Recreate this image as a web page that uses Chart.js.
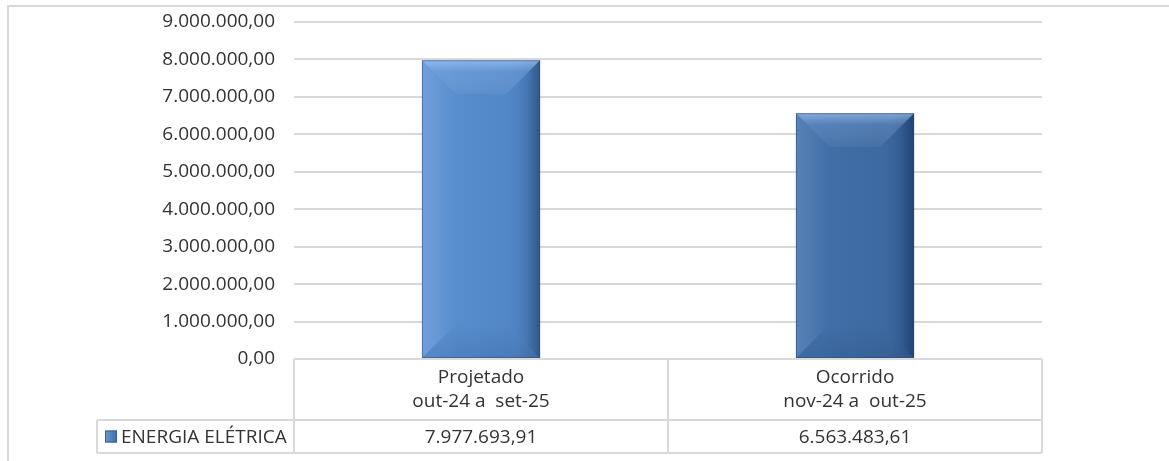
<!DOCTYPE html>
<html>
<head>
<meta charset="utf-8">
<script src="https://cdn.jsdelivr.net/npm/chart.js@4/dist/chart.umd.min.js"></script>
<style>
  html, body { margin: 0; padding: 0; background: #fff; }
  #wrap { width: 1169px; height: 461px; position: relative; }
</style>
</head>
<body>
<div id="wrap"><canvas id="chart"></canvas></div>
<script>
// chart values
var categories = [['Projetado', 'out-24 a  set-25'], ['Ocorrido', 'nov-24 a  out-25']];
var seriesName = 'ENERGIA ELÉTRICA';
var values = [7977693.91, 6563483.61];
var yMax = 9000000;
var yStep = 1000000;

var FONT = '"Open Sans", "Liberation Sans", sans-serif';
var TEXT = '#333333';
var LINE = '#d9d9d9';
var BAR_PCT = 0.316;

// 1234567.8 -> "1.234.567,80"
function fmtBR(v) {
  var parts = v.toFixed(2).split('.');
  var int = parts[0].replace(/\B(?=(\d{3})+(?!\d))/g, '.');
  return int + ',' + parts[1];
}

function barFill(ctx) {
  var chart = ctx.chart;
  var xs = chart.scales.x;
  var base = ctx.dataIndex === 0 ? '#558acb' : '#3f6ca4';
  if (!chart.chartArea || !xs) return base;
  var cx = xs.getPixelForValue(ctx.dataIndex);
  var w = (chart.chartArea.right - chart.chartArea.left) / categories.length * BAR_PCT;
  if (!isFinite(cx) || !isFinite(w)) return base;
  var g = chart.ctx.createLinearGradient(cx - w / 2, 0, cx + w / 2, 0);
  if (ctx.dataIndex === 0) {
    g.addColorStop(0, '#6195d6');
    g.addColorStop(0.3, '#578dcd');
    g.addColorStop(0.8, '#5186c6');
    g.addColorStop(1, '#4474ad');
  } else {
    g.addColorStop(0, '#4674ae');
    g.addColorStop(0.3, '#406ea7');
    g.addColorStop(0.8, '#3c69a0');
    g.addColorStop(1, '#30578a');
  }
  return g;
}

// outer frame of the chart object
var framePlugin = {
  id: 'frame',
  beforeDraw: function (chart) {
    var c = chart.ctx;
    c.save();
    c.strokeStyle = LINE;
    c.lineWidth = 2;
    c.beginPath();
    c.moveTo(8, chart.height);
    c.lineTo(8, 6);
    c.lineTo(chart.width, 6);
    c.stroke();
    c.restore();
  }
};

// soft bevel shading on the bars
var bevelPlugin = {
  id: 'bevel',
  afterDatasetsDraw: function (chart) {
    var c = chart.ctx;
    chart.getDatasetMeta(0).data.forEach(function (bar) {
      var l = bar.x - bar.width / 2, r = bar.x + bar.width / 2;
      var t = bar.y, b = bar.base;
      var s = Math.min(34, bar.width / 3, (b - t) / 2);
      var g;
      c.save();
      // top
      g = c.createLinearGradient(0, t, 0, t + s);
      g.addColorStop(0, 'rgba(190,220,255,0.55)');
      g.addColorStop(0.35, 'rgba(170,205,250,0.18)');
      g.addColorStop(1, 'rgba(255,255,255,0.04)');
      c.fillStyle = g;
      c.beginPath(); c.moveTo(l, t); c.lineTo(r, t); c.lineTo(r - s, t + s); c.lineTo(l + s, t + s); c.closePath(); c.fill();
      // right
      g = c.createLinearGradient(r - s, 0, r, 0);
      g.addColorStop(0, 'rgba(0,20,60,0.0)');
      g.addColorStop(0.6, 'rgba(0,20,60,0.06)');
      g.addColorStop(1, 'rgba(0,20,60,0.3)');
      c.fillStyle = g;
      c.beginPath(); c.moveTo(r, t); c.lineTo(r, b); c.lineTo(r - s, b - s); c.lineTo(r - s, t + s); c.closePath(); c.fill();
      // left
      g = c.createLinearGradient(l, 0, l + s, 0);
      g.addColorStop(0, 'rgba(255,255,255,0.1)');
      g.addColorStop(1, 'rgba(255,255,255,0.0)');
      c.fillStyle = g;
      c.beginPath(); c.moveTo(l, t); c.lineTo(l, b); c.lineTo(l + s, b - s); c.lineTo(l + s, t + s); c.closePath(); c.fill();
      // bottom
      g = c.createLinearGradient(0, b - s, 0, b);
      g.addColorStop(0, 'rgba(0,20,60,0.0)');
      g.addColorStop(1, 'rgba(0,20,60,0.1)');
      c.fillStyle = g;
      c.beginPath(); c.moveTo(l, b); c.lineTo(r, b); c.lineTo(r - s, b - s); c.lineTo(l + s, b - s); c.closePath(); c.fill();
      c.strokeStyle = 'rgba(45,75,120,0.55)';
      c.lineWidth = 1;
      c.strokeRect(l + 0.5, t + 0.5, bar.width - 1, b - t - 1);
      c.restore();
    });
  }
};

// data table under the plot
var tablePlugin = {
  id: 'dataTable',
  afterDraw: function (chart) {
    var c = chart.ctx;
    var area = chart.chartArea;
    var xs = chart.scales.x;
    var top = area.bottom, mid = top + 61, bot = top + 94;
    var legendLeft = 97;
    var edges = [area.left];
    for (var i = 1; i < categories.length; i++) {
      edges.push((xs.getPixelForValue(i - 1) + xs.getPixelForValue(i)) / 2);
    }
    edges.push(area.right);

    c.save();
    c.strokeStyle = LINE;
    c.lineWidth = 2;
    c.beginPath();
    c.moveTo(area.left, top); c.lineTo(area.right, top);
    c.moveTo(legendLeft, mid); c.lineTo(area.right, mid);
    c.moveTo(legendLeft, bot); c.lineTo(area.right, bot);
    c.moveTo(legendLeft, mid); c.lineTo(legendLeft, bot);
    edges.forEach(function (x) { c.moveTo(x, top); c.lineTo(x, bot); });
    c.stroke();

    c.fillStyle = TEXT;
    c.font = '19px ' + FONT;
    c.textAlign = 'center';
    c.textBaseline = 'middle';
    categories.forEach(function (lines, i) {
      var cx = xs.getPixelForValue(i);
      c.fillText(lines[0], cx, top + 19);
      c.fillText(lines[1], cx, top + 43);
      c.fillText(fmtBR(values[i]), cx, (mid + bot) / 2 + 1);
    });

    // legend key
    var ky = (mid + bot) / 2;
    var g = c.createLinearGradient(105, 0, 117, 0);
    g.addColorStop(0, '#6a9ad8');
    g.addColorStop(1, '#3f6ca4');
    c.fillStyle = g;
    c.fillRect(105, ky - 6, 12, 12);
    c.strokeStyle = '#3a5f90';
    c.lineWidth = 1;
    c.strokeRect(105.5, ky - 5.5, 11, 11);
    c.fillStyle = TEXT;
    c.textAlign = 'left';
    c.fillText(seriesName, 121, ky + 1);
    c.restore();
  }
};

new Chart(document.getElementById('chart'), {
  type: 'bar',
  data: {
    labels: categories,
    datasets: [{
      label: seriesName,
      data: values,
      backgroundColor: barFill,
      borderWidth: 0,
      barPercentage: BAR_PCT,
      categoryPercentage: 1
    }]
  },
  options: {
    responsive: true,
    maintainAspectRatio: false,
    animation: false,
    layout: { padding: { top: 22, right: 127, bottom: 102, left: 0 } },
    plugins: {
      legend: { display: false },
      tooltip: { enabled: false }
    },
    scales: {
      x: {
        display: false
      },
      y: {
        min: 0,
        max: yMax,
        ticks: {
          stepSize: yStep,
          padding: 19,
          color: TEXT,
          font: { family: FONT, size: 19 },
          callback: function (v) { return fmtBR(v); }
        },
        grid: { color: LINE, lineWidth: 2, drawTicks: false },
        border: { display: false },
        afterFit: function (scale) {
          scale.width = 294;
          scale.paddingTop = 0;
          scale.paddingBottom = 0;
        }
      }
    }
  },
  plugins: [framePlugin, bevelPlugin, tablePlugin]
});
</script>
</body>
</html>
